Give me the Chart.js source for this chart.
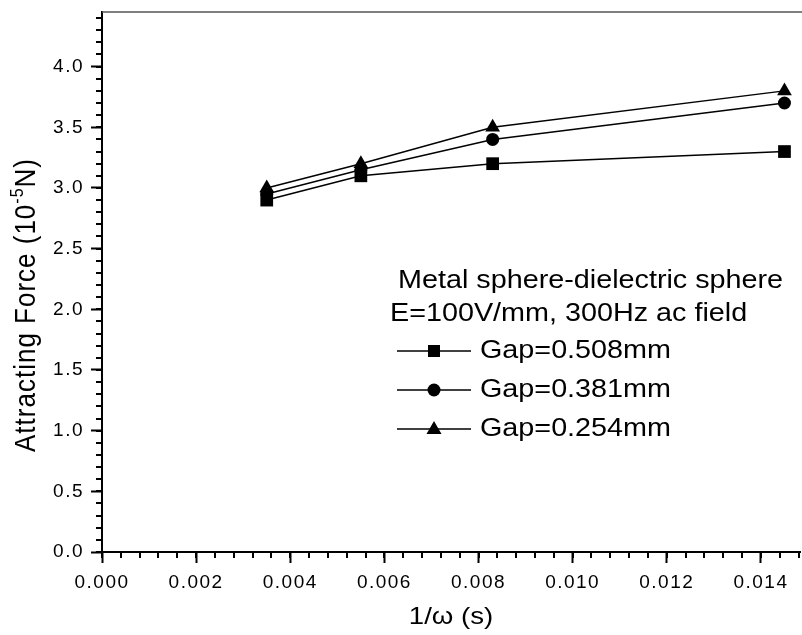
<!DOCTYPE html>
<html>
<head>
<meta charset="utf-8">
<script src="https://cdn.jsdelivr.net/npm/chart.js@4.4.1/dist/chart.umd.min.js"></script>
<style>
  html, body { margin: 0; padding: 0; background: #fff; overflow: hidden; }
  /* a few px wider than the window: the point overflow padding is pushed off-screen */
  #wrap { width: 809px; height: 635px; position: relative; }
</style>
</head>
<body>
<div id="wrap"><canvas id="force-chart"></canvas></div>
<script>
// data
const invOmega = [0.0035, 0.0055, 0.0083, 0.0145];
const gap508 = [2.9, 3.1, 3.2, 3.3];
const gap381 = [2.95, 3.15, 3.4, 3.7];
const gap254 = [3.0, 3.2, 3.5, 3.8];
const seriesLabels = ["Gap=0.508mm", "Gap=0.381mm", "Gap=0.254mm"];
const xTicks = [0, 0.002, 0.004, 0.006, 0.008, 0.010, 0.012, 0.014];
const yTicks = [0, 0.5, 1.0, 1.5, 2.0, 2.5, 3.0, 3.5, 4.0];
const legendTitle = ["Metal sphere-dielectric sphere", "E=100V/mm, 300Hz ac field"];

const FONT = "'Liberation Sans', Arial, Helvetica, sans-serif";
const STRETCH = 1.15; // the scanned figure's text is a bit wide

function pts(ys) {
  return invOmega.map(function (x, i) { return { x: x, y: ys[i] }; });
}

const styles = ['rect', 'circle', 'triangle'];
const radii = [9, 6.5, 8.5];

function wideText(ctx, txt, x, y, size, align) {
  ctx.save();
  ctx.translate(x, y);
  ctx.scale(STRETCH, 1);
  ctx.font = size + 'px ' + FONT;
  ctx.textAlign = align;
  ctx.fillText(txt, 0, 0);
  ctx.restore();
}

// minor ticks, top frame line, axis titles and legend block
const decorations = {
  id: 'decorations',
  beforeDraw: function (chart) {
    chart.ctx.letterSpacing = '1.5px';
  },
  afterDraw: function (chart) {
    const ctx = chart.ctx;
    const a = chart.chartArea;
    const xs = chart.scales.x, ys = chart.scales.y;
    ctx.save();
    ctx.letterSpacing = '0px';
    ctx.strokeStyle = '#000';
    ctx.lineWidth = 2;
    // minor ticks
    ctx.beginPath();
    for (let v = 0; v <= xs.max + 1e-9; v += 0.0004) {
      const px = Math.round(xs.getPixelForValue(v));
      ctx.moveTo(px, a.bottom);
      ctx.lineTo(px, a.bottom + 6);
    }
    for (let v = 0; v <= ys.max + 1e-9; v += 0.1) {
      const py = Math.round(ys.getPixelForValue(v));
      ctx.moveTo(a.left, py);
      ctx.lineTo(a.left - 6, py);
    }
    ctx.stroke();
    // top frame line
    ctx.strokeStyle = '#555';
    ctx.lineWidth = 1.5;
    ctx.beginPath();
    ctx.moveTo(a.left, a.top);
    ctx.lineTo(chart.width, a.top);
    ctx.stroke();

    ctx.fillStyle = '#000';
    ctx.textBaseline = 'middle';

    // x title
    wideText(ctx, '1/\u03c9 (s)', (a.left + a.right) / 2, 617, 24, 'center');

    // y title with superscript (stretched across the text height)
    ctx.save();
    ctx.translate(27, 305);
    ctx.rotate(-Math.PI / 2);
    ctx.scale(1, STRETCH);
    ctx.letterSpacing = '1px';
    ctx.textAlign = 'left';
    const p1 = 'Attracting Force (10', sup = '-5', p2 = 'N)';
    ctx.font = '26px ' + FONT;
    const w1 = ctx.measureText(p1).width, w3 = ctx.measureText(p2).width;
    ctx.font = '16px ' + FONT;
    const w2 = ctx.measureText(sup).width;
    const x0 = -(w1 + w2 + w3) / 2;
    ctx.font = '26px ' + FONT;
    ctx.fillText(p1, x0, 0);
    ctx.font = '16px ' + FONT;
    ctx.fillText(sup, x0 + w1, -8);
    ctx.font = '26px ' + FONT;
    ctx.fillText(p2, x0 + w1 + w2, 0);
    ctx.restore();

    // legend
    wideText(ctx, legendTitle[0], 398, 281, 25, 'left');
    wideText(ctx, legendTitle[1], 390, 314, 25, 'left');
    const rows = [351, 390, 429];
    seriesLabels.forEach(function (lab, i) {
      const y = rows[i];
      ctx.strokeStyle = '#000';
      ctx.lineWidth = 1.3;
      ctx.beginPath();
      ctx.moveTo(397, y);
      ctx.lineTo(471, y);
      ctx.stroke();
      ctx.beginPath();
      const cx = 434;
      if (styles[i] === 'rect') {
        ctx.rect(cx - 6, y - 6, 12, 12);
      } else if (styles[i] === 'circle') {
        ctx.arc(cx, y, 6.5, 0, Math.PI * 2);
      } else {
        ctx.moveTo(cx, y - 8);
        ctx.lineTo(cx + 7.5, y + 5);
        ctx.lineTo(cx - 7.5, y + 5);
        ctx.closePath();
      }
      ctx.fill();
      wideText(ctx, lab, 480, y, 25, 'left');
    });
    ctx.restore();
  }
};

function noPad(s) {
  s.paddingTop = 0; s.paddingBottom = 0; s.paddingLeft = 0; s.paddingRight = 0;
}

new Chart(document.getElementById('force-chart'), {
  type: 'scatter',
  data: {
    datasets: [gap508, gap381, gap254].map(function (ys, i) {
      return {
        label: seriesLabels[i],
        data: pts(ys),
        showLine: true,
        borderColor: '#000',
        backgroundColor: '#000',
        borderWidth: 1.5,
        pointStyle: styles[i],
        pointRadius: radii[i],
        pointHoverRadius: radii[i],
        pointBorderWidth: 0
      };
    })
  },
  options: {
    responsive: true,
    maintainAspectRatio: false,
    animation: false,
    layout: { padding: { top: 12, right: 0, left: 0, bottom: 0 } },
    plugins: {
      legend: { display: false },
      tooltip: { enabled: false }
    },
    scales: {
      x: {
        type: 'linear',
        min: 0,
        max: 0.01483,
        afterBuildTicks: function (s) { s.ticks = xTicks.map(function (v) { return { value: v }; }); },
        afterFit: function (s) { s.height = 83; noPad(s); },
        ticks: {
          color: '#000',
          font: { family: FONT, size: 19 },
          padding: 8,
          maxRotation: 0,
          autoSkip: false,
          callback: function (v) { return Number(v).toFixed(3); }
        },
        grid: { drawOnChartArea: false, drawTicks: true, tickLength: 11, tickWidth: 2, tickColor: '#000' },
        border: { display: true, color: '#000', width: 2 }
      },
      y: {
        min: 0,
        max: 4.45,
        afterBuildTicks: function (s) { s.ticks = yTicks.map(function (v) { return { value: v }; }); },
        afterFit: function (s) { s.width = 102; noPad(s); },
        ticks: {
          color: '#000',
          font: { family: FONT, size: 19 },
          padding: 7,
          autoSkip: false,
          callback: function (v) { return Number(v).toFixed(1); }
        },
        grid: { drawOnChartArea: false, drawTicks: true, tickLength: 11, tickWidth: 2, tickColor: '#000' },
        border: { display: true, color: '#000', width: 2 }
      }
    }
  },
  plugins: [decorations]
});
</script>
</body>
</html>
